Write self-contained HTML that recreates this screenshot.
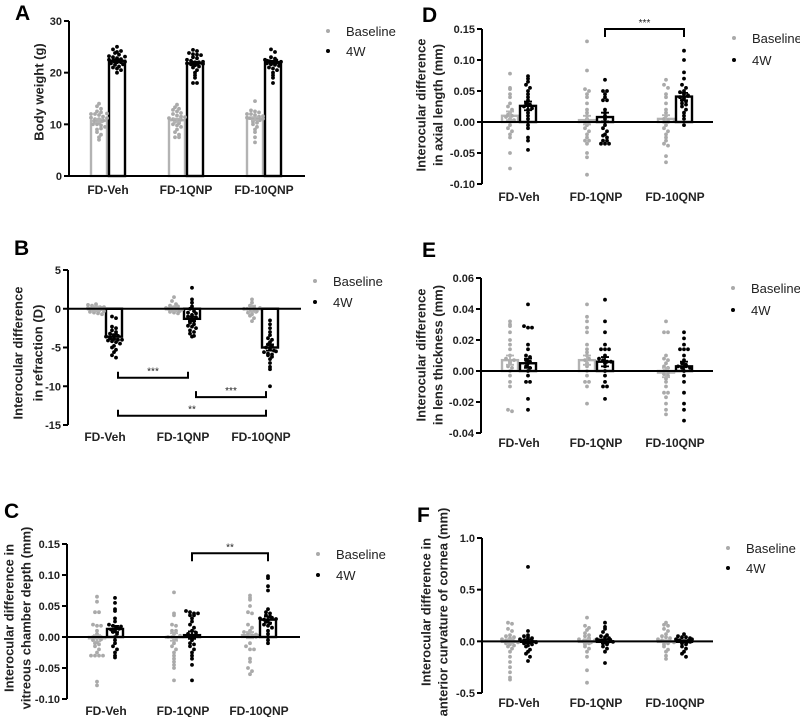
<!DOCTYPE html>
<html><head><meta charset="utf-8"><style>
html,body{margin:0;padding:0;background:#fff;}
svg{display:block;font-family:"Liberation Sans",Arial,sans-serif;}
.tk{font-size:11px;font-weight:bold;fill:#222;}
.xk{font-size:12px;font-weight:bold;fill:#222;}
.yl{font-size:13px;font-weight:bold;fill:#222;}
.lg{font-size:13px;fill:#222;}
.lt{font-size:21px;font-weight:bold;fill:#000;}
</style></head><body>
<svg id="fig" width="800" height="717" viewBox="0 0 800 717"></svg>
<script>
const categories = ["FD-Veh","FD-1QNP","FD-10QNP"];
// Panel A body weight
const aBase = [[14,13.5,13,12.5,12.3,12,12,11.8,11.5,11.3,11,11,10.8,10.5,10.3,10,10,9.8,9.5,9,8.5,8,7.5,7,11.2,12.1,10.7,9.2],[13.8,13.3,13,12.8,12.5,12.2,12,11.7,11.5,11.2,11,10.8,10.5,10.2,10,9.8,9.5,9,8.5,8,7.5,7.5,10.9,11.4],[14.5,12.7,12.5,12.3,12,12,11.8,11.5,11.3,11.2,11,11,10.8,10.5,10.3,10,9.5,9,8.5,7.5,6.5,11.6,11.1]];
const a4w = [[25,24.5,24,23.8,23.5,23.2,23,22.8,22.5,22.3,22,22,21.8,21.5,21.2,21,20.8,20.5,20,22.6,23.1,22.1,21.6,24.2],[24.4,24.2,23.8,23.6,23.5,23.4,23,22.8,22.5,22.3,22,22,21.8,21.6,21.4,21.2,21,20.5,20,19.5,19,18,18,22.1,21.7],[24.5,24,23,22.7,22.5,22.3,22.2,22,22,21.8,21.6,21.5,21.3,21,20.8,20.5,20,19.5,19,18,22.4,21.9,22.1]];
const aMeanBase = [10.7,10.8,11.1];
const aMean4w = [22.3,21.8,22.0];
const aSem = [0.3,0.3,0.3];
// Panel B refraction
const bBase = [[0.6,0.5,0.4,0.3,0.2,0.1,0,0,0,-0.1,-0.2,-0.3,-0.4,-0.5,-0.6,-0.7,0.2,-0.1,0.1,-0.3],[1.5,1,0.6,0.4,0.2,0.1,0,0,0,-0.1,-0.2,-0.3,-0.4,-0.5,-0.6,0.3,-0.1],[1.2,0.8,0.4,0.2,0,0,-0.1,-0.2,-0.3,-0.5,-0.7,-0.9,-1.2,-1.6,0.1,-0.4]];
const b4w = [[-1,-1.2,-2.3,-2.5,-2.8,-3,-3.2,-3.4,-3.5,-3.6,-3.8,-3.9,-4,-4,-4.1,-4.2,-4.3,-4.5,-4.8,-5,-5.3,-5.6,-6,-6.3],[2.7,1.2,0.8,0.3,0,-0.3,-0.5,-0.8,-1,-1.2,-1.4,-1.6,-1.8,-2,-2.2,-2.3,-2.5,-2.8,-3,-3.2,-3.5,-3.6,-1.1,-0.6],[-1.5,-2,-2.5,-3,-3.4,-3.8,-4,-4.3,-4.6,-5,-5.2,-5.4,-5.6,-5.8,-5.9,-6,-6.2,-6.5,-7,-7.5,-7.8,-10,-5.5,-4.8]];
const bMeanBase = [0,0,0];
const bMean4w = [-3.6,-1.3,-5.0];
const bSem = [0.3,0.3,0.4];
// Panel C vitreous chamber depth
const cBase = [[0.065,0.057,0.04,0.04,0.02,0.018,0.018,0.01,0.005,0,-0.002,-0.005,-0.008,-0.01,-0.012,-0.015,-0.02,-0.025,-0.03,-0.03,-0.03,-0.03,-0.072,-0.078,0.0,-0.004],[0.072,0.038,0.035,0.02,0.018,0.01,0.01,0.005,0,0,-0.003,-0.005,-0.01,-0.015,-0.02,-0.025,-0.03,-0.035,-0.04,-0.045,-0.05,-0.07,0.002],[0.067,0.063,0.06,0.05,0.04,0.038,0.02,0.015,0.01,0.008,0.005,0.003,0.002,0,0,0,-0.01,-0.015,-0.02,-0.02,-0.035,-0.04,-0.05,-0.055,-0.06,0.004]];
const c4w = [[0.063,0.055,0.045,0.042,0.03,0.025,0.02,0.018,0.015,0.012,0.01,0.008,0.005,0,-0.005,-0.01,-0.015,-0.02,-0.025,-0.03,-0.033,0.017,0.013],[0.042,0.04,0.038,0.038,0.035,0.035,0.03,0.025,0.02,0.015,0.01,0.005,0,-0.005,-0.01,-0.012,-0.015,-0.02,-0.025,-0.03,-0.035,-0.045,-0.07,0.003,0.007,0.0],[0.098,0.095,0.082,0.075,0.045,0.04,0.038,0.035,0.033,0.03,0.028,0.027,0.025,0.022,0.02,0.018,0.015,0.01,0.005,0,-0.005,-0.01,0.031,0.029]];
const cMeanBase = [-0.002,0.0,0.003];
const cMean4w = [0.013,0.003,0.028];
const cSem = [0.005,0.006,0.005];
// Panel D axial length
const dBase = [[0.078,0.055,0.053,0.045,0.04,0.03,0.025,0.02,0.015,0.012,0.01,0.008,0.005,0,-0.005,-0.01,-0.015,-0.02,-0.025,-0.05,-0.075,0.003],[0.13,0.083,0.053,0.05,0.045,0.04,0.03,0.02,0.015,0.01,0.005,0,0,-0.005,-0.01,-0.015,-0.02,-0.025,-0.03,-0.03,-0.035,-0.05,-0.057,-0.085],[0.068,0.06,0.055,0.045,0.04,0.03,0.02,0.015,0.01,0.005,0.003,0,0,-0.005,-0.01,-0.015,-0.02,-0.025,-0.03,-0.035,-0.038,-0.055,-0.065]];
const d4w = [[0.074,0.07,0.065,0.06,0.055,0.05,0.045,0.04,0.035,0.03,0.028,0.025,0.02,0.015,0.01,0.005,0,-0.005,-0.01,-0.025,-0.03,-0.045,0.022],[0.068,0.05,0.05,0.045,0.04,0.035,0.035,0.02,0.015,0.01,0.005,0,-0.005,-0.01,-0.015,-0.02,-0.022,-0.025,-0.03,-0.03,-0.035,-0.035,-0.035],[0.115,0.1,0.08,0.07,0.06,0.055,0.05,0.048,0.045,0.043,0.04,0.038,0.035,0.033,0.03,0.028,0.025,0.02,0.015,0.01,0.005,-0.005,0.042]];
const dMeanBase = [0.01,0.003,0.005];
const dMean4w = [0.026,0.008,0.041];
const dSem = [0.007,0.007,0.006];
// Panel E lens thickness
const eBase = [[0.032,0.03,0.029,0.025,0.02,0.017,0.014,0.01,0.008,0.006,0.005,0.003,0.002,0,-0.003,-0.007,-0.01,-0.025,-0.026,0.007],[0.043,0.035,0.032,0.028,0.025,0.017,0.014,0.012,0.01,0.007,0.005,0.003,0,-0.003,-0.007,-0.007,-0.01,-0.021,0.008],[0.032,0.025,0.025,0.01,0.008,0.007,0.005,0.003,0.002,0,-0.002,-0.003,-0.005,-0.007,-0.01,-0.014,-0.014,-0.017,-0.021,-0.025,-0.028,-0.001]];
const e4w = [[0.043,0.029,0.028,0.028,0.017,0.014,0.01,0.009,0.007,0.005,0.003,0.002,0,-0.003,-0.007,-0.007,-0.018,-0.025,0.006],[0.046,0.032,0.025,0.017,0.014,0.014,0.014,0.01,0.008,0.007,0.006,0.005,0.003,0,-0.003,-0.007,-0.01,-0.01,-0.018,0.006],[0.025,0.021,0.017,0.014,0.014,0.014,0.01,0.007,0.005,0.004,0.003,0.002,0,-0.003,-0.007,-0.014,-0.021,-0.025,-0.032,0.003,0.002]];
const eMeanBase = [0.007,0.007,-0.001];
const eMean4w = [0.005,0.006,0.003];
const eSem = [0.003,0.003,0.003];
// Panel F corneal curvature
const fBase = [[0.18,0.17,0.12,0.1,0.06,0.05,0.03,0.02,0.01,0,0,-0.01,-0.02,-0.03,-0.05,-0.07,-0.1,-0.15,-0.2,-0.25,-0.3,-0.35,-0.37,0.04,-0.04],[0.23,0.15,0.13,0.11,0.08,0.06,0.05,0.03,0.02,0,0,-0.01,-0.03,-0.05,-0.07,-0.1,-0.15,-0.28,-0.4,0.01,-0.02],[0.18,0.16,0.15,0.12,0.1,0.07,0.05,0.04,0.02,0.01,0,0,-0.01,-0.03,-0.05,-0.08,-0.1,-0.14,-0.17,0.03,-0.02]];
const f4w = [[0.72,0.1,0.06,0.05,0.04,0.02,0.01,0,0,-0.01,-0.02,-0.04,-0.05,-0.08,-0.1,-0.12,-0.15,-0.19,0.03,-0.03],[0.18,0.14,0.12,0.09,0.06,0.05,0.04,0.03,0.02,0.01,0,0,-0.01,-0.02,-0.03,-0.05,-0.07,-0.1,-0.21,0.015,-0.005],[0.07,0.05,0.04,0.04,0.03,0.02,0.01,0.01,0,0,0,-0.01,-0.02,-0.03,-0.05,-0.07,-0.1,-0.12,-0.15,0.005,-0.005,0.02]];
const fMeanBase = [0.0,0.0,0.0];
const fMean4w = [0.0,0.0,0.0];
const fSem = [0.02,0.02,0.01];
// tick labels
const aTicks = [0,10,20,30];
const bTicks = [5,0,-5,-10,-15];
const cTicks = [0.15,0.10,0.05,0.00,-0.05,-0.10];
const dTicks = [0.15,0.10,0.05,0.00,-0.05,-0.10];
const eTicks = [0.06,0.04,0.02,0.00,-0.02,-0.04];
const fTicks = [1.0,0.5,0.0,-0.5];
// significance brackets [fromGroup, toGroup, value, label]
const bSig = [[0,1,-8.9,"***"],[1,2,-11.4,"***"],[0,2,-13.8,"**"]];
const cSig = [[1,2,0.135,"**"]];
const dSig = [[1,2,0.15,"***"]];

const NS="http://www.w3.org/2000/svg";
const svg=document.getElementById('fig');
function mk(tag,attrs,parent){const e=document.createElementNS(NS,tag);for(const k in attrs)e.setAttribute(k,attrs[k]);(parent||svg).appendChild(e);return e;}

const panels=[
 {id:'a',letter:'A',lx:15,ly:20,x0:69,ymax:30,pTop:21,ymin:0,pBot:176,end:305,groups:[108,186,264],ticks:aTicks,dec:0,base:aBase,w4:a4w,mb:aMeanBase,m4:aMean4w,sem:aSem,xly:194,
  ylab:["Body weight (g)"],ylx:[39],yly:92,leg:[328,31,51],sig:[],bracketDown:false},
 {id:'b',letter:'B',lx:14,ly:255,x0:68,ymax:5,pTop:270,ymin:-15,pBot:425,end:301,groups:[105,183,261],ticks:bTicks,dec:0,base:bBase,w4:b4w,mb:bMeanBase,m4:bMean4w,sem:bSem,xly:441,
  ylab:["Interocular difference","in refraction (D)"],ylx:[18,38],yly:353,leg:[315,281,302],sig:bSig,bracketDown:false},
 {id:'c',letter:'C',lx:4,ly:518,x0:67,ymax:0.15,pTop:544,ymin:-0.10,pBot:699,end:300,groups:[106,183,259],ticks:cTicks,dec:2,base:cBase,w4:c4w,mb:cMeanBase,m4:cMean4w,sem:cSem,xly:715,
  ylab:["Interocular difference in","vitreous chamber depth (mm)"],ylx:[9,26],yly:618,leg:[318,554,575],sig:cSig,bracketDown:true},
 {id:'d',letter:'D',lx:422,ly:22,x0:482,ymax:0.15,pTop:29,ymin:-0.10,pBot:184,end:713,groups:[519,596,675],ticks:dTicks,dec:2,base:dBase,w4:d4w,mb:dMeanBase,m4:dMean4w,sem:dSem,xly:201,
  ylab:["Interocular difference","in axial length (mm)"],ylx:[421,438],yly:105,leg:[734,38,60],sig:dSig,bracketDown:true},
 {id:'e',letter:'E',lx:422,ly:257,x0:481,ymax:0.06,pTop:278,ymin:-0.04,pBot:433,end:713,groups:[519,596,675],ticks:eTicks,dec:2,base:eBase,w4:e4w,mb:eMeanBase,m4:eMean4w,sem:eSem,xly:447,
  ylab:["Interocular difference","in lens thickness (mm)"],ylx:[421,438],yly:355,leg:[733,288,310],sig:[],bracketDown:true},
 {id:'f',letter:'F',lx:417,ly:522,x0:482,ymax:1.0,pTop:538,ymin:-0.5,pBot:693,end:713,groups:[519,596,675],ticks:fTicks,dec:1,base:fBase,w4:f4w,mb:fMeanBase,m4:fMean4w,sem:fSem,xly:707,
  ylab:["Interocular difference in","anterior curvature of cornea (mm)"],ylx:[426,443],yly:612,leg:[728,548,568],sig:[],bracketDown:true}
];

function swarm(g,vals,cx,y,color){
  const bins={};
  vals.forEach(v=>{const py=y(v);const k=Math.round(py/3.6);(bins[k]=bins[k]||[]).push(py);});
  Object.keys(bins).forEach(k=>{const arr=bins[k];const n=arr.length;
    const sp=n>1?Math.min(4,16/(n-1)):0;
    arr.forEach((py,i)=>{const off=(i-(n-1)/2)*sp;
      const c=mk('circle',{cx:(cx+off).toFixed(1),cy:py.toFixed(1),r:1.9,fill:color},g);
      
      
    });});
}

panels.forEach(p=>{
  const g=mk('g',{});
  
  
  const y=v=>p.pTop+(p.ymax-v)/(p.ymax-p.ymin)*(p.pBot-p.pTop);
  const zero=p.ymin<0?y(0):p.pBot;
  const lt=mk('text',{x:p.lx,y:p.ly,class:'lt'},g);lt.textContent=p.letter;
  
  p.groups.forEach((gc,i)=>{
    [[p.mb[i],gc-9,'#b3b3b3','baseline'],[p.m4[i],gc+9,'#000','4w']].forEach(([m,bx,col,nm])=>{
      const top=Math.min(y(m),zero),h=Math.abs(y(m)-zero);
      const r=mk('rect',{x:bx-8,y:top,width:16,height:Math.max(h,0.5),fill:'#fff',stroke:col,'stroke-width':2.4},g);
      
      
    });
  });
  p.groups.forEach((gc,i)=>{swarm(g,p.base[i],gc-9,y,'#aaaaaa');swarm(g,p.w4[i],gc+9,y,'#000');});
  p.groups.forEach((gc,i)=>{
    [[p.mb[i],gc-9,'#b3b3b3'],[p.m4[i],gc+9,'#000']].forEach(([m,bx,col])=>{
      const y1=y(m+p.sem[i]),y2=y(m-p.sem[i]);
      const e=mk('path',{d:`M${bx},${y1}V${y2}M${bx-4},${y1}H${bx+4}M${bx-4},${y2}H${bx+4}`,stroke:col,'stroke-width':1.8,fill:'none'},g);
      
    });
  });
  const ya=mk('line',{x1:p.x0,y1:p.pTop,x2:p.x0,y2:p.pBot,stroke:'#000','stroke-width':2},g);
  
  const xa=mk('line',{x1:p.x0,y1:zero,x2:p.end,y2:zero,stroke:'#000','stroke-width':2},g);
  
  p.ticks.forEach(t=>{
    const ty=y(t);
    mk('line',{x1:p.x0-5,y1:ty,x2:p.x0,y2:ty,stroke:'#000','stroke-width':2},g);
    const tx=mk('text',{x:p.x0-7,y:ty+4,class:'tk','text-anchor':'end'},g);
    tx.textContent=t.toFixed(p.dec);
    
  });
  p.groups.forEach((gc,i)=>{
    const t=mk('text',{x:gc,y:p.xly,class:'xk','text-anchor':'middle'},g);t.textContent=categories[i];
    
  });
  p.ylab.forEach((s,i)=>{
    const t=mk('text',{x:p.ylx[i],y:p.yly,class:'yl','text-anchor':'middle',transform:`rotate(-90 ${p.ylx[i]} ${p.yly})`,dy:'0.35em'},g);
    t.textContent=s;
  });
  const [lx,ly1,ly2]=p.leg;
  [[ly1,'#aaaaaa','Baseline'],[ly2,'#000','4W']].forEach(([ly,col,txt])=>{
    const lg=mk('g',{},g);
    mk('circle',{cx:lx,cy:ly,r:2,fill:col},lg);
    const t=mk('text',{x:lx+18,y:ly+5,class:'lg'},lg);t.textContent=txt;
  });
  p.sig.forEach(([a,b,v,lab])=>{
    const x1=p.groups[a]+9+(p.bracketDown?0:4),x2=p.groups[b]+9-(p.bracketDown?0:4);
    const by=y(v);const d=p.bracketDown?8:-6;
    const br=mk('path',{d:`M${x1},${by+d}V${by}H${x2}V${by+d}`,stroke:'#000','stroke-width':2,fill:'none'},g);
    
    const t=mk('text',{x:(x1+x2)/2,y:by-3,'text-anchor':'middle','font-size':10,fill:'#222'},g);t.textContent=lab;
    
  });
});
</script>
</body></html>
